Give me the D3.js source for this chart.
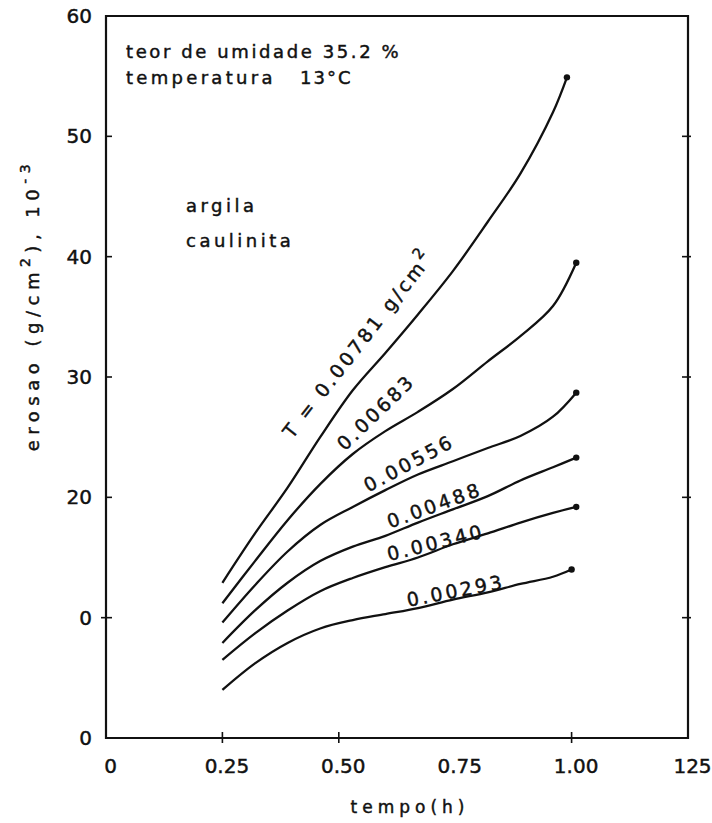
<!DOCTYPE html>
<html><head><meta charset="utf-8">
<script src="https://cdn.jsdelivr.net/npm/d3@7"></script>
<style>
html,body{margin:0;padding:0;background:#fff;}
svg{display:block;}
text{font-family:"DejaVu Sans",sans-serif;fill:#111;stroke:#111;stroke-width:0.45px;}
</style></head><body>
<svg id="c" width="712" height="823"></svg>
<script>
// ---- data ----
const xTickValues = [0, 0.25, 0.5, 0.75, 1.0, 1.25];
const xTickLabels = ["0", "0.25", "0.50", "0.75", "1.00", "125"];
const xTickMarks = [0.25, 0.5, 1.0];
const yTickValues = [0, 10, 20, 30, 40, 50, 60];
const yTickLabels = ["0", "0", "20", "30", "40", "50", "60"];
const yTickMarks = [10, 20, 30, 40, 50];

const tempo = [0.25, 0.32, 0.39, 0.46, 0.53, 0.60, 0.67, 0.745, 0.82, 0.89, 0.96];
const tempoFinal = [0.99, 1.01, 1.01, 1.01, 1.01, 1.00];

const erosao00781 = [12.9, 17.0, 20.8, 25.0, 28.9, 32.0, 35.2, 38.8, 42.9, 46.9, 52.0, 54.9];
const erosao00683 = [11.2, 14.7, 18.1, 21.1, 23.6, 25.5, 27.1, 29.0, 31.3, 33.4, 35.9, 39.5];
const erosao00556 = [9.6, 12.7, 15.5, 17.7, 19.2, 20.6, 21.9, 23.0, 24.1, 25.1, 26.7, 28.7];
const erosao00488 = [7.9, 10.6, 12.9, 14.7, 15.9, 16.8, 17.9, 19.0, 20.1, 21.4, 22.5, 23.3];
const erosao00340 = [6.5, 8.7, 10.6, 12.2, 13.3, 14.2, 15.0, 16.1, 17.0, 17.9, 18.7, 19.2];
const erosao00293 = [4.0, 6.2, 7.9, 9.1, 9.8, 10.3, 10.8, 11.5, 12.1, 12.8, 13.4, 14.0];

const seriesValues = [erosao00781, erosao00683, erosao00556, erosao00488, erosao00340, erosao00293];
const seriesLabels = ["T = 0.00781 g/cm", "0.00683", "0.00556", "0.00488", "0.00340", "0.00293"];
// label anchor (data units) and rotation
const labelTempo = [0.40, 0.513, 0.563, 0.61, 0.608, 0.649];
const labelErosao = [24.8, 23.8, 20.4, 17.4, 14.7, 10.9];
const labelAngle = [-52, -44, -28, -20, -14, -11];

const infoLines = ["teor de umidade 35.2 %", "temperatura"];
const infoTemp = "13°C";
const soilLines = ["argila", "caulinita"];

// ---- drawing ----
const svg = d3.select("#c");
const x = d3.scaleLinear().domain([0, 1.25]).range([106, 688]);
const y = d3.scaleLinear().domain([0, 60]).range([738, 16]);

svg.append("rect").attr("width", 712).attr("height", 823).attr("fill", "#fff");

// frame
svg.append("path")
  .attr("d", `M${x(0)},${y(60)}L${x(0)},${y(0)}L${x(1.25)},${y(0)}L${x(1.25)},${y(60)}Z`)
  .attr("fill", "none").attr("stroke", "#111").attr("stroke-width", 2.2);

// tick labels
const yAx = svg.append("g").attr("transform", `translate(${x(0)},0)`)
  .call(d3.axisLeft(y).tickValues(yTickValues).tickFormat((d, i) => yTickLabels[i]).tickSize(0).tickPadding(14));
const xAx = svg.append("g").attr("transform", `translate(0,${y(0)})`)
  .call(d3.axisBottom(x).tickValues(xTickValues).tickFormat((d, i) => xTickLabels[i]).tickSize(0).tickPadding(21));
[yAx, xAx].forEach(g => {
  g.select(".domain").remove();
  g.selectAll("text").attr("font-family", "DejaVu Sans").attr("font-size", 20).attr("fill", "#111");
});
xAx.selectAll("text").attr("dx", 4);

// tick marks
const tm = svg.append("g").attr("stroke", "#111").attr("stroke-width", 1.6);
yTickMarks.forEach(v => {
  tm.append("line").attr("x1", x(0) - (v === 10 ? 5 : 0)).attr("x2", x(0) + 6).attr("y1", y(v)).attr("y2", y(v));
  tm.append("line").attr("x1", x(1.25) - 6).attr("x2", x(1.25) + 3).attr("y1", y(v)).attr("y2", y(v));
});
xTickMarks.forEach(v => {
  tm.append("line").attr("x1", x(v)).attr("x2", x(v)).attr("y1", y(0) - 6).attr("y2", y(0) + 5);
});

// curves
const line = d3.line().x(d => x(d.t)).y(d => y(d.v)).curve(d3.curveCatmullRom.alpha(0.5));
seriesValues.forEach((vals, i) => {
  const pts = vals.map((v, j) => ({ t: j < tempo.length ? tempo[j] : tempoFinal[i], v }));
  svg.append("path").datum(pts).attr("d", line)
    .attr("fill", "none").attr("stroke", "#111").attr("stroke-width", 2.3);
  const last = pts[pts.length - 1];
  svg.append("circle").attr("cx", x(last.t)).attr("cy", y(last.v)).attr("r", 3.2).attr("fill", "#111");
});

// curve labels
seriesLabels.forEach((lab, i) => {
  const t = svg.append("text")
    .attr("transform", `translate(${x(labelTempo[i])},${y(labelErosao[i])}) rotate(${labelAngle[i]})`)
    .attr("font-size", 19).attr("letter-spacing", 3).text(lab);
  if (i === 0) t.append("tspan").attr("dy", -10).attr("font-size", 15).text("2");
});

// info text
svg.append("text").attr("x", 126).attr("y", 58).attr("font-size", 18).attr("letter-spacing", 2.6).text(infoLines[0]);
svg.append("text").attr("x", 126).attr("y", 84).attr("font-size", 18).attr("letter-spacing", 3.3).text(infoLines[1]);
svg.append("text").attr("x", 300).attr("y", 84).attr("font-size", 18).attr("letter-spacing", 2).text(infoTemp);
svg.append("text").attr("x", 186).attr("y", 212).attr("font-size", 18).attr("letter-spacing", 3.5).text(soilLines[0]);
svg.append("text").attr("x", 186).attr("y", 247).attr("font-size", 18).attr("letter-spacing", 3.5).text(soilLines[1]);

// axis titles
svg.append("text").attr("x", 410).attr("y", 813).attr("text-anchor", "middle")
  .attr("font-size", 17).attr("letter-spacing", 5).text("tempo(h)");
const yt = svg.append("text").attr("transform", "translate(39,305) rotate(-90)")
  .attr("text-anchor", "middle").attr("font-size", 18).attr("letter-spacing", 5.5);
yt.append("tspan").text("erosao (g/cm");
yt.append("tspan").attr("dy", -9).attr("font-size", 14).text("2");
yt.append("tspan").attr("dy", 9).text("), 10");
yt.append("tspan").attr("dy", -9).attr("font-size", 14).text("-3");
</script>
</body></html>
